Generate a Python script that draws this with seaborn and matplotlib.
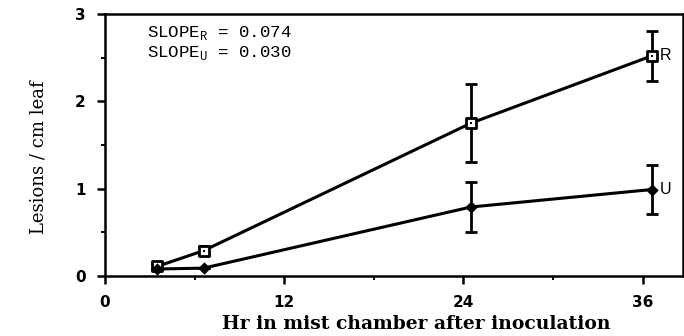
import pandas as pd
import matplotlib.pyplot as plt
import seaborn as sns
from matplotlib.ticker import MultipleLocator

# Data
hours = [3.5, 6.6, 24.5, 36.6]
r_mean = [0.11, 0.29, 1.75, 2.52]
r_err = [0.03, 0.05, 0.45, 0.29]
u_mean = [0.08, 0.09, 0.79, 0.99]
u_err = [0.0, 0.0, 0.29, 0.28]
groups = ["R", "U"]
x_ticks = [0, 12, 24, 36]
y_ticks = [0, 1, 2, 3]

df = pd.DataFrame({
    "hours": hours * 2,
    "lesions": r_mean + u_mean,
    "err": r_err + u_err,
    "group": ["R"] * len(hours) + ["U"] * len(hours),
})

sns.set_style("ticks")
plt.rcParams["mathtext.fontset"] = "custom"
plt.rcParams["mathtext.rm"] = "Liberation Mono"
plt.rcParams["text.color"] = "black"
plt.rcParams["axes.labelcolor"] = "black"
plt.rcParams["xtick.color"] = "black"
plt.rcParams["ytick.color"] = "black"

fig = plt.figure(figsize=(6.84, 3.36), dpi=100)
ax = fig.add_axes([105 / 684, 1 - 276 / 336, 578 / 684, 262 / 336])

sns.lineplot(data=df, x="hours", y="lesions", hue="group", palette=["black", "black"],
             linewidth=2.2, legend=False, ax=ax, zorder=2)

for g in groups:
    sub = df[df["group"] == g]
    ax.errorbar(sub["hours"], sub["lesions"], yerr=sub["err"], fmt="none",
                ecolor="black", elinewidth=2, capsize=4, capthick=2, zorder=3)

r = df[df["group"] == "R"]
u = df[df["group"] == "U"]
sns.scatterplot(x=r["hours"], y=r["lesions"], marker="s", s=50, color="white",
                edgecolor="black", linewidth=2, ax=ax, zorder=4)
sns.scatterplot(x=r["hours"], y=r["lesions"], marker="s", s=3, color="black",
                linewidth=0, ax=ax, zorder=5)
sns.scatterplot(x=u["hours"], y=u["lesions"], marker="D", s=40, color="black",
                linewidth=0, ax=ax, zorder=4)

for g, sub in [("R", r), ("U", u)]:
    ax.annotate(g, (sub["hours"].iloc[-1], sub["lesions"].iloc[-1]),
                xytext=(6, 0), textcoords="offset points", va="center", ha="left",
                fontsize=11.5, family="Liberation Sans")

ax.text(2.8, 2.74, r"SLOPE$_\mathrm{R}$ = 0.074", family="Liberation Mono", fontsize=12.5)
ax.text(2.8, 2.51, r"SLOPE$_\mathrm{U}$ = 0.030", family="Liberation Mono", fontsize=12.5)

ax.set_xlim(0, 38.7)
ax.set_ylim(0, 3)
ax.set_xticks(x_ticks)
ax.set_yticks(y_ticks)
ax.xaxis.set_minor_locator(MultipleLocator(6))
ax.yaxis.set_minor_locator(MultipleLocator(0.5))
ax.tick_params(which="major", length=6, width=1.8, direction="out", pad=8)
ax.tick_params(which="minor", length=3, width=1.4, direction="out")
for lbl in ax.get_xticklabels() + ax.get_yticklabels():
    lbl.set_fontweight("bold")
    lbl.set_fontsize(11)
    lbl.set_family("DejaVu Sans")

for s in ax.spines.values():
    s.set_linewidth(1.8)
    s.set_color("black")

ax.set_xlabel("Hr in mist chamber after inoculation", family="DejaVu Serif",
              fontweight="bold", fontsize=13.5)
ax.xaxis.set_label_coords(0.538, -0.148)
ax.set_ylabel("Lesions / cm leaf", family="DejaVu Serif", fontsize=13)
ax.yaxis.set_label_coords(-0.10, 0.454)

fig.savefig("out.png", dpi=100)
